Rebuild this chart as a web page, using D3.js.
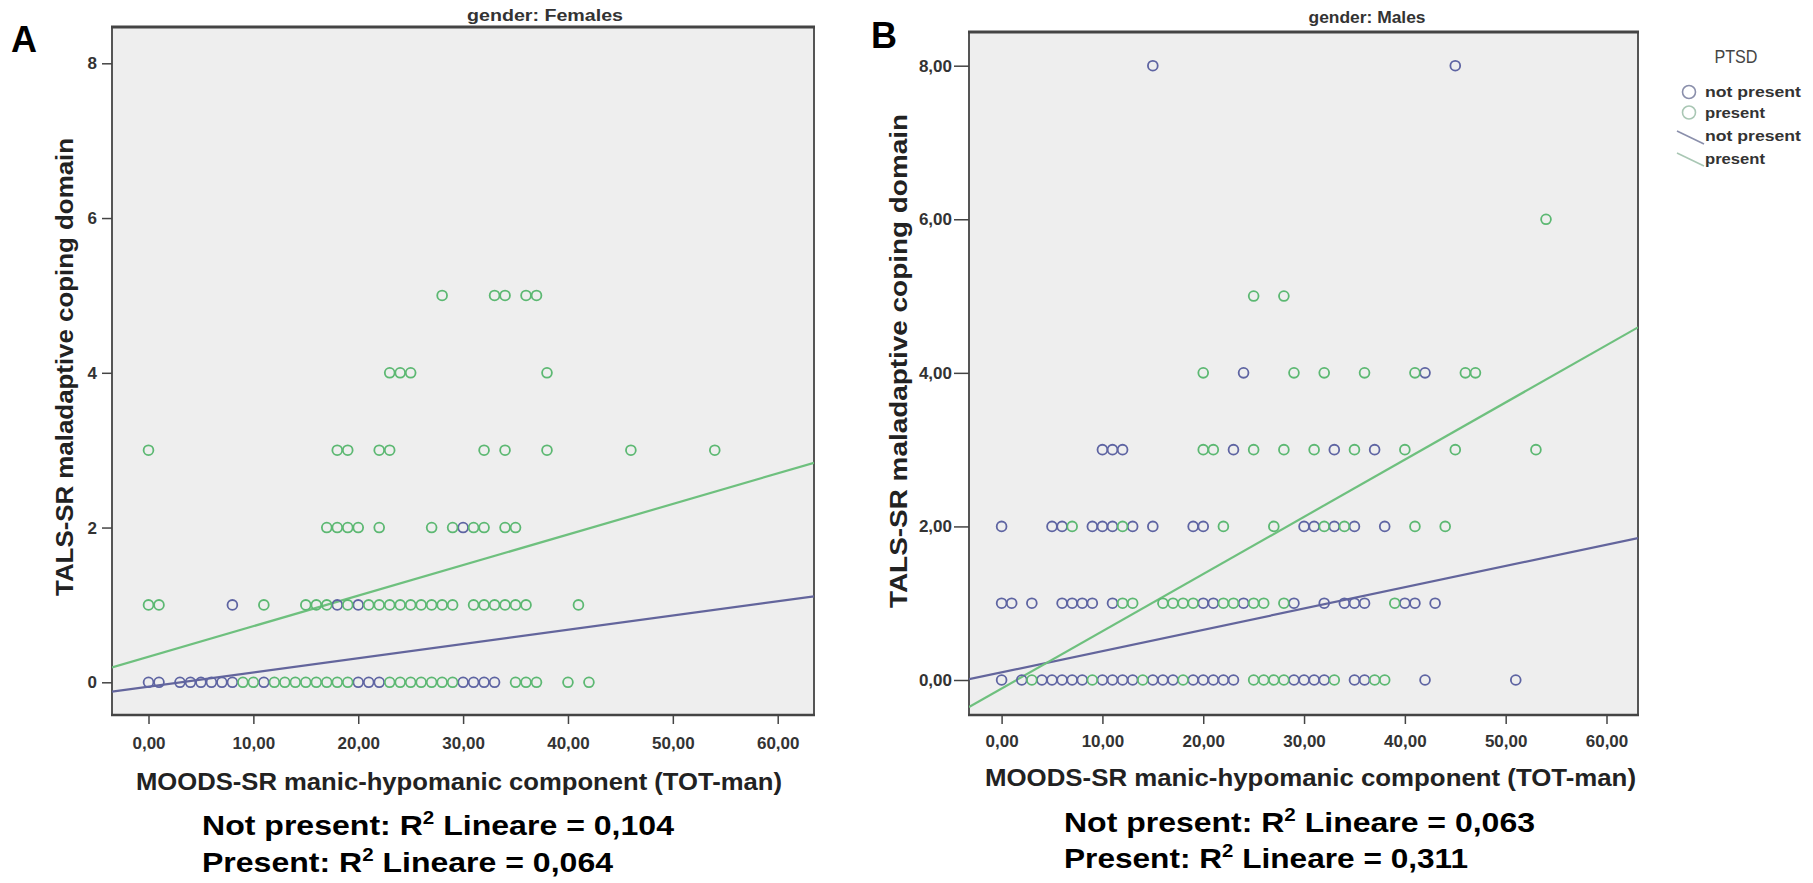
<!DOCTYPE html>
<html>
<head>
<meta charset="utf-8">
<script src="https://cdn.jsdelivr.net/npm/d3@7"></script>
<style>
    body { margin: 0; background: #ffffff; }
    svg { display: block; font-family: Arial, "Liberation Sans", sans-serif; }
</style>
</head>
<body>
<svg id="chart" width="1813" height="883"></svg>
<script>
// ---- data: [x, y] per case ----
const femalesNotPresent = [
    [0,0],[1,0],[3,0],[4,0],[5,0],[6,0],[7,0],[8,0],[11,0],[20,0],[21,0],[22,0],[30,0],[31,0],[32,0],[33,0],
    [8,1],[18,1],[20,1],
    [30,2]
];
const femalesPresent = [
    [9,0],[10,0],[12,0],[13,0],[14,0],[15,0],[16,0],[17,0],[18,0],[19,0],[23,0],[24,0],[25,0],[26,0],[27,0],[28,0],[29,0],
    [35,0],[36,0],[37,0],[40,0],[42,0],
    [0,1],[1,1],[11,1],[15,1],[16,1],[17,1],[19,1],[21,1],[22,1],[23,1],[24,1],[25,1],[26,1],[27,1],[28,1],[29,1],
    [31,1],[32,1],[33,1],[34,1],[35,1],[36,1],[41,1],
    [17,2],[18,2],[19,2],[20,2],[22,2],[27,2],[29,2],[31,2],[32,2],[34,2],[35,2],
    [0,3],[18,3],[19,3],[22,3],[23,3],[32,3],[34,3],[38,3],[46,3],[54,3],
    [23,4],[24,4],[25,4],[38,4],
    [28,5],[33,5],[34,5],[36,5],[37,5]
];
const malesNotPresent = [
    [0,0],[2,0],[4,0],[5,0],[6,0],[7,0],[8,0],[10,0],[11,0],[12,0],[13,0],[15,0],[16,0],[17,0],[19,0],[20,0],[21,0],[22,0],[23,0],
    [29,0],[30,0],[31,0],[32,0],[35,0],[36,0],[42,0],[51,0],
    [0,1],[1,1],[3,1],[6,1],[7,1],[8,1],[9,1],[11,1],[20,1],[21,1],[24,1],[29,1],[32,1],[34,1],[35,1],[36,1],[40,1],[41,1],[43,1],
    [0,2],[5,2],[6,2],[9,2],[10,2],[11,2],[13,2],[15,2],[19,2],[20,2],[30,2],[31,2],[33,2],[35,2],[38,2],
    [10,3],[11,3],[12,3],[23,3],[33,3],[37,3],
    [24,4],[42,4],
    [15,8],[45,8]
];
const malesPresent = [
    [3,0],[9,0],[14,0],[18,0],[25,0],[26,0],[27,0],[28,0],[33,0],[37,0],[38,0],
    [12,1],[13,1],[16,1],[17,1],[18,1],[19,1],[22,1],[23,1],[25,1],[26,1],[28,1],[39,1],
    [7,2],[12,2],[22,2],[27,2],[32,2],[34,2],[41,2],[44,2],
    [20,3],[21,3],[25,3],[28,3],[31,3],[35,3],[40,3],[45,3],[53,3],
    [20,4],[29,4],[32,4],[36,4],[41,4],[46,4],[47,4],
    [25,5],[28,5],
    [54,6]
];

// fit lines: [intercept, slope]
const femalesFitNotPresent = [-0.057, 0.0184];
const femalesFitPresent = [0.33, 0.0395];
const malesFitNotPresent = [0.10, 0.0277];
const malesFitPresent = [-0.11, 0.0745];

const xTicks = [0, 10, 20, 30, 40, 50, 60];
const yTicks = [0, 2, 4, 6, 8];
const r2Females = ["0,104", "0,064"];
const r2Males = ["0,063", "0,311"];
const legendLabels = ["not present", "present"];

const blue = "#5e64a2", green = "#5cb872";
const blueLine = "#63659c", greenLine = "#6ec07e";

const it = d3.formatLocale({ decimal: ",", thousands: ".", grouping: [3], currency: ["", "€"] });
const fmt2 = it.format(".2f");

let svg = d3.select("#chart");

function drawPanel(p)
{
    let g = svg.append("g");
    let x = d3.scaleLinear().domain([0, 60]).range([p.x0, p.x60]);
    let y = d3.scaleLinear().domain([0, 8]).range([p.y0, p.y8]);

    g.append("rect")
        .attr("x", p.left).attr("y", p.top)
        .attr("width", p.right - p.left).attr("height", p.bottom - p.top)
        .attr("fill", "#eeeeee")
        .attr("stroke", "#555").attr("stroke-width", 2);
    g.append("line")
        .attr("x1", p.left - 1).attr("x2", p.right + 1)
        .attr("y1", p.top).attr("y2", p.top)
        .attr("stroke", "#444").attr("stroke-width", 3);
    g.append("line")
        .attr("x1", p.left - 1).attr("x2", p.right + 1)
        .attr("y1", p.bottom).attr("y2", p.bottom)
        .attr("stroke", "#444").attr("stroke-width", 2.5);

    g.append("clipPath").attr("id", p.id + "-clip")
        .append("rect")
        .attr("x", p.left).attr("y", p.top)
        .attr("width", p.right - p.left).attr("height", p.bottom - p.top);

    let xAxis = g.append("g")
        .attr("transform", `translate(0,${p.bottom})`)
        .call(d3.axisBottom(x).tickValues(xTicks).tickFormat(fmt2).tickSize(p.xTickSize).tickPadding(p.xTickPad));
    let yAxis = g.append("g")
        .attr("transform", `translate(${p.left},0)`)
        .call(d3.axisLeft(y).tickValues(yTicks).tickFormat(p.yFormat).tickSize(p.yTickSize).tickPadding(p.yTickPad));
    [xAxis, yAxis].forEach(a => {
        a.select(".domain").remove();
        a.selectAll(".tick line").attr("stroke", "#444").attr("stroke-width", 1.5);
        a.selectAll(".tick text")
            .attr("fill", "#333")
            .style("font-size", "17px")
            .style("font-weight", "bold")
            .style("font-family", "Arial, 'Liberation Sans', sans-serif");
    });

    // regression lines across the whole frame
    let xs = [x.invert(p.left), x.invert(p.right)];
    let plot = g.append("g").attr("clip-path", `url(#${p.id}-clip)`);
    let line = d3.line().x(d => x(d[0])).y(d => y(d[1]));
    [[p.fitNotPresent, blueLine], [p.fitPresent, greenLine]].forEach(([f, c]) => {
        plot.append("path")
            .datum(xs.map(v => [v, f[0] + f[1] * v]))
            .attr("d", line)
            .attr("fill", "none")
            .attr("stroke", c)
            .attr("stroke-width", 2.2);
    });

    plot.selectAll(null)
        .data(p.notPresent)
        .enter()
            .append("circle")
            .attr("cx", d => x(d[0]))
            .attr("cy", d => y(d[1]))
            .attr("r", 4.9)
            .attr("fill", "none")
            .attr("stroke", blue)
            .attr("stroke-width", 1.8);
    plot.selectAll(null)
        .data(p.present)
        .enter()
            .append("circle")
            .attr("cx", d => x(d[0]))
            .attr("cy", d => y(d[1]))
            .attr("r", 4.9)
            .attr("fill", "none")
            .attr("stroke", green)
            .attr("stroke-width", 1.8);

    // titles
    g.append("text")
        .attr("x", p.titleX).attr("y", p.titleY)
        .attr("text-anchor", "middle")
        .attr("textLength", p.titleW).attr("lengthAdjust", "spacingAndGlyphs")
        .style("font-size", "16px").style("font-weight", "bold").attr("fill", "#333")
        .text(p.title);
    g.append("text")
        .attr("x", p.letterX).attr("y", p.letterY)
        .style("font-size", "36px").style("font-weight", "bold").attr("fill", "#000")
        .text(p.letter);
    g.append("text")
        .attr("x", p.xTitleX).attr("y", p.xTitleY)
        .attr("textLength", p.xTitleW).attr("lengthAdjust", "spacingAndGlyphs")
        .style("font-size", "23px").style("font-weight", "bold").attr("fill", "#222")
        .text("MOODS-SR manic-hypomanic component (TOT-man)");
    g.append("text")
        .attr("transform", `translate(${p.yTitleX},${p.yTitleY}) rotate(-90)`)
        .attr("text-anchor", "middle")
        .attr("textLength", p.yTitleW).attr("lengthAdjust", "spacingAndGlyphs")
        .style("font-size", "24px").style("font-weight", "bold").attr("fill", "#222")
        .text("TALS-SR maladaptive coping domain");

    // R squared notes
    [["Not present: R", p.r2[0], p.r2Y[0], p.r2W[0]], ["Present: R", p.r2[1], p.r2Y[1], p.r2W[1]]].forEach(([lab, val, yy, w]) => {
        let t = g.append("text")
            .attr("x", p.r2X).attr("y", yy)
            .attr("textLength", w).attr("lengthAdjust", "spacingAndGlyphs")
            .style("font-size", "28px").style("font-weight", "bold").attr("fill", "#000");
        t.append("tspan").text(lab);
        t.append("tspan").attr("dy", -11).style("font-size", "18px").text("2");
        t.append("tspan").attr("dy", 11).text(` Lineare = ${val}`);
    });
}

drawPanel({
    id: "fem", letter: "A", letterX: 11, letterY: 52,
    title: "gender: Females", titleX: 545, titleY: 21, titleW: 156,
    left: 112, right: 814, top: 27, bottom: 715,
    x0: 148.5, x60: 777.7, y0: 682.3, y8: 63.3,
    xTickSize: 9, xTickPad: 13, yTickSize: 10, yTickPad: 5,
    yFormat: d3.format("d"),
    xTitleX: 136, xTitleY: 790, xTitleW: 646,
    yTitleX: 73, yTitleY: 367, yTitleW: 458,
    r2: r2Females, r2X: 202, r2Y: [835, 872], r2W: [472, 411],
    notPresent: femalesNotPresent, present: femalesPresent,
    fitNotPresent: femalesFitNotPresent, fitPresent: femalesFitPresent
});

drawPanel({
    id: "mal", letter: "B", letterX: 871, letterY: 48,
    title: "gender: Males", titleX: 1367, titleY: 23, titleW: 117,
    left: 969, right: 1638, top: 32, bottom: 715,
    x0: 1001.6, x60: 1606.5, y0: 680, y8: 65.7,
    xTickSize: 9, xTickPad: 11, yTickSize: 15, yTickPad: 2,
    yFormat: fmt2,
    xTitleX: 985, xTitleY: 786, xTitleW: 651,
    yTitleX: 907, yTitleY: 361, yTitleW: 494,
    r2: r2Males, r2X: 1064, r2Y: [832, 868], r2W: [471, 404],
    notPresent: malesNotPresent, present: malesPresent,
    fitNotPresent: malesFitNotPresent, fitPresent: malesFitPresent
});

// legend
let legend = svg.append("g");
legend.append("text")
    .attr("x", 1736).attr("y", 63)
    .attr("text-anchor", "middle")
    .attr("textLength", 43).attr("lengthAdjust", "spacingAndGlyphs")
    .style("font-size", "19px").attr("fill", "#444")
    .text("PTSD");
let legendColors = ["#8a8fab", "#a9c7b4"];
legendLabels.forEach((lab, i) => {
    legend.append("circle")
        .attr("cx", 1689).attr("cy", 92 + i * 20.5).attr("r", 6.5)
        .attr("fill", "none").attr("stroke", legendColors[i]).attr("stroke-width", 1.6);
    legend.append("line")
        .attr("x1", 1677).attr("y1", 131 + i * 22).attr("x2", 1704).attr("y2", 144 + i * 22)
        .attr("stroke", legendColors[i]).attr("stroke-width", 1.6);
});
legendLabels.concat(legendLabels).forEach((lab, i) => {
    legend.append("text")
        .attr("x", 1705).attr("y", [97, 118, 141, 164][i])
        .attr("textLength", lab === "present" ? 60 : 96).attr("lengthAdjust", "spacingAndGlyphs")
        .style("font-size", "15px").style("font-weight", "bold").attr("fill", "#333")
        .text(lab);
});
</script>
</body>
</html>
